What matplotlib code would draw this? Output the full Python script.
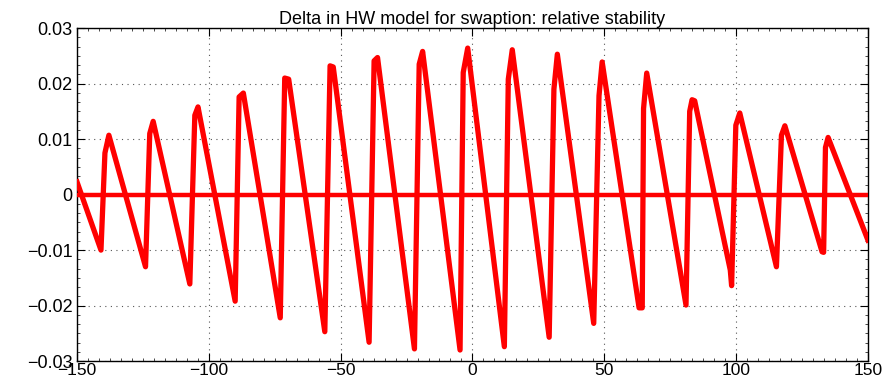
import matplotlib
matplotlib.use("Agg")
import matplotlib.pyplot as plt
from matplotlib.ticker import MultipleLocator

# sawtooth delta curve
x_vals = [-150.0, -140.9, -139.4, -137.9,
          -124.0, -122.4, -121.1,
          -107.2, -105.3, -104.1,
          -90.0, -88.5, -86.9,
          -72.9, -71.2, -69.7,
          -56.0, -54.0, -52.8,
          -39.2, -37.3, -36.0,
          -22.0, -20.2, -18.9,
          -4.7, -3.5, -1.8,
          12.1, 13.6, 15.1,
          29.1, 30.9, 32.2,
          46.0, 48.0, 49.2,
          63.2, 64.4, 64.9, 66.1,
          81.0, 82.4, 83.3, 84.3,
          97.8, 98.3, 99.9, 101.4,
          115.3, 117.2, 118.5,
          132.6, 133.2, 133.9, 134.9,
          150.0]
delta = [0.0023, -0.0100, 0.0075, 0.0107,
         -0.0130, 0.0110, 0.0132,
         -0.0161, 0.0143, 0.0158,
         -0.0192, 0.0176, 0.0183,
         -0.0222, 0.0210, 0.0208,
         -0.0247, 0.0232, 0.0230,
         -0.0266, 0.0241, 0.0247,
         -0.0278, 0.0235, 0.0258,
         -0.0280, 0.0220, 0.0264,
         -0.0274, 0.0208, 0.0261,
         -0.0257, 0.0190, 0.0253,
         -0.0232, 0.0178, 0.0239,
         -0.0204, -0.0204, 0.0155, 0.0219,
         -0.0199, 0.0150, 0.0171, 0.0169,
         -0.0136, -0.0164, 0.0125, 0.0147,
         -0.0130, 0.0107, 0.0124,
         -0.0103, -0.0104, 0.0085, 0.0103,
         -0.0082]
zero_x = [-150, 150]
zero_y = [0, 0]

x_ticks = [-150, -100, -50, 0, 50, 100, 150]
y_ticks = [-0.03, -0.02, -0.01, 0, 0.01, 0.02, 0.03]
y_labels = ["\u22120.03", "\u22120.02", "\u22120.01", "0", "0.01", "0.02", "0.03"]
x_labels = ["\u2212150", "\u2212100", "\u221250", "0", "50", "100", "150"]

plt.rcParams["font.family"] = ["Liberation Sans", "DejaVu Sans"]

fig = plt.figure(figsize=(8.92, 3.85), dpi=100)
ax = fig.add_axes([0.0863, 0.062, 0.8867, 0.865])

ax.plot(x_vals, delta, color="red", lw=3.8, solid_joinstyle="round", zorder=3)
ax.plot(zero_x, zero_y, color="red", lw=3.2, zorder=3)

ax.set_xlim(-150, 150)
ax.set_ylim(-0.03, 0.03)
ax.set_xticks(x_ticks)
ax.set_xticklabels(x_labels)
ax.set_yticks(y_ticks)
ax.set_yticklabels(y_labels)
ax.xaxis.set_minor_locator(MultipleLocator(50 / 12))
ax.yaxis.set_minor_locator(MultipleLocator(0.01 / 6))

ax.tick_params(which="major", direction="in", length=6, width=0.8,
               top=True, right=True, labelsize=13, pad=3)
ax.tick_params(which="minor", direction="in", length=2, width=0.5,
               top=True, right=True)
ax.tick_params(axis="x", pad=1, labelsize=12.5)

ax.grid(True, which="major", color="#555555", linestyle=(0, (1, 4)), linewidth=0.8)
for s in ax.spines.values():
    s.set_linewidth(1.0)

ax.set_title("Delta in HW model for swaption: relative stability", fontsize=13, pad=3)

plt.savefig("out.png", dpi=100)
